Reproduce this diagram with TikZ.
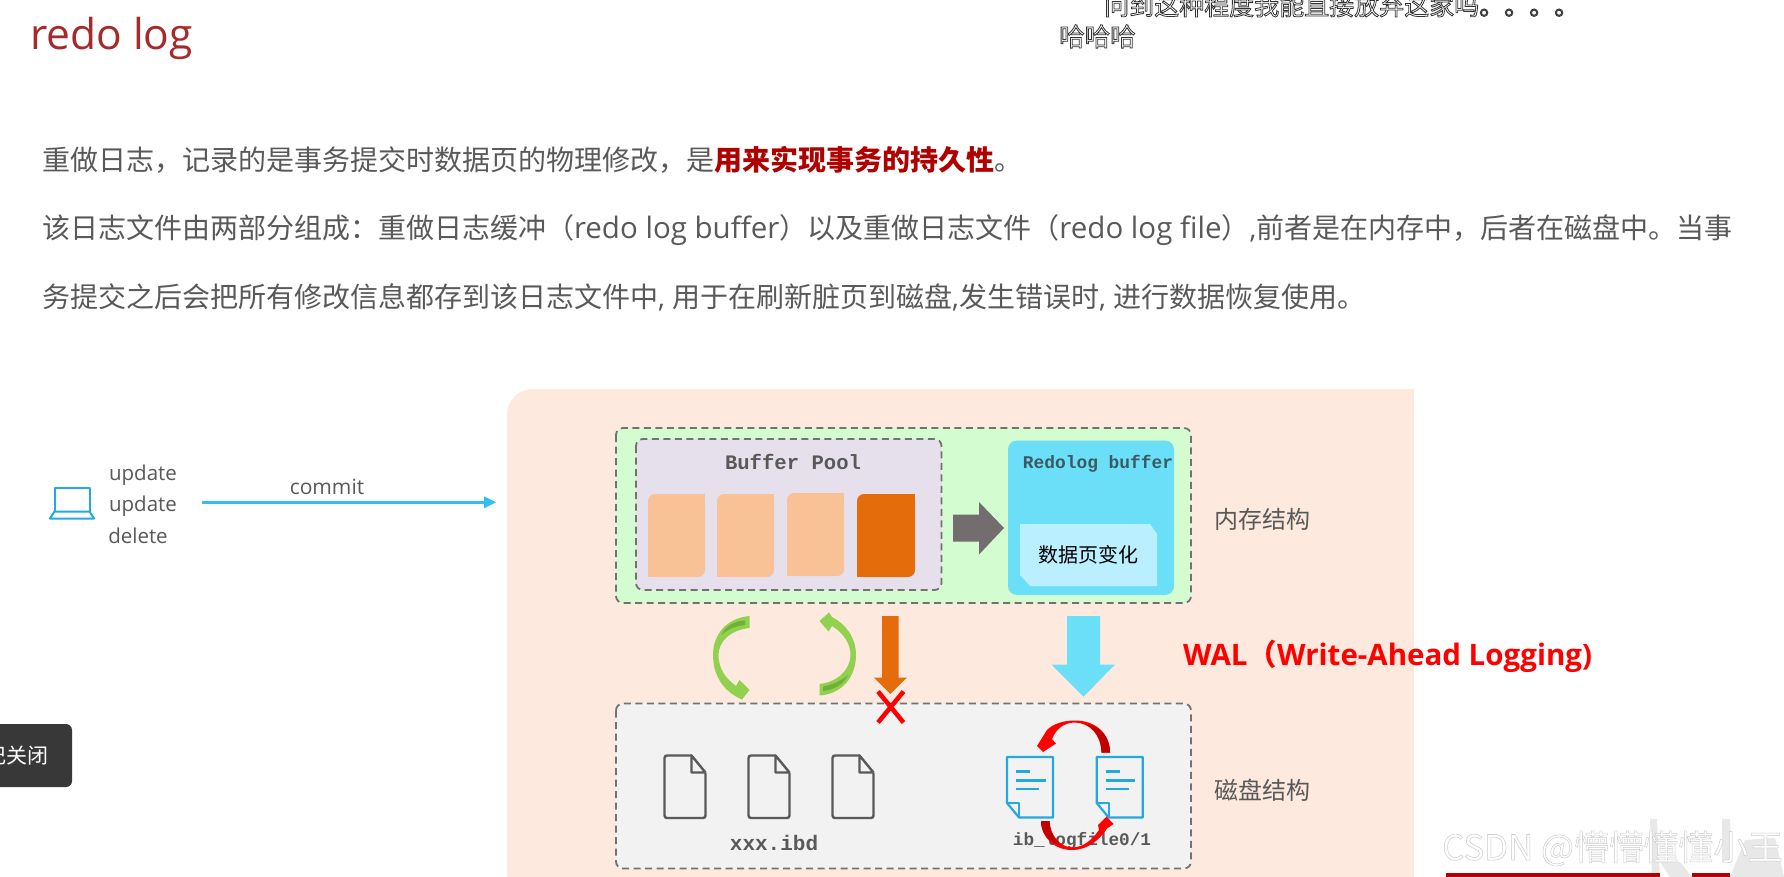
\documentclass[tikz,border=0pt]{standalone}
\usepackage{fontspec}
\setmainfont{Noto Sans CJK SC}
\newfontfamily\latf{Open Sans}
\newfontfamily\monof{Liberation Mono}
\newcommand{\fsz}[1]{\fontsize{#1}{#1}\selectfont}
\newcommand{\lt}[1]{{\latf\fsz{29.5}#1}}
\newcommand{\lc}[1]{{\latf #1}}
\newcommand{\outl}[3]{{\special{pdf:code 2 Tr #1 w #2 G}#3\special{pdf:code 0 Tr}}}
\definecolor{peach}{HTML}{FDE9DD}
\definecolor{memgreen}{HTML}{D3FCD0}
\definecolor{lilac}{HTML}{E5E0EC}
\definecolor{pagec}{HTML}{F8C196}
\definecolor{pagedark}{HTML}{E46C0A}
\definecolor{greyarrow}{HTML}{746D70}
\definecolor{cyanb}{HTML}{6ADFF7}
\definecolor{cyanl}{HTML}{BAEFFF}
\definecolor{diskc}{HTML}{F2F2F2}
\definecolor{txt}{HTML}{595959}
\definecolor{blued}{HTML}{24A8E0}
\definecolor{commitc}{HTML}{33BEF3}
\definecolor{titlec}{HTML}{A52A2A}
\definecolor{leaf}{HTML}{92D050}
\definecolor{leafd}{HTML}{6FB03A}
\definecolor{dashc}{HTML}{767171}
\definecolor{darkr}{HTML}{C00000}
\definecolor{barr}{HTML}{B00000}
\definecolor{popupc}{HTML}{383838}
\definecolor{rbtxt}{HTML}{3C5A64}
\tikzset{
  x=1pt,y=-1pt,
  txtnode/.style={inner sep=0pt,outer sep=0pt,text=txt},
  bodyline/.style={txtnode,anchor=base west,font=\fsz{28}},
  dashbox/.style={draw=dashc,line width=1.8pt,dash pattern=on 7pt off 4.5pt,rounded corners=7pt},
  ibddoc/.pic={
    \draw[txt,line width=2.4pt,rounded corners=2.5pt,fill=diskc]
      (27,0) -- (0,0) -- (0,62.5) -- (41,62.5) -- (41,17);
    \draw[txt,line width=2.4pt,line join=round] (41,17) -- (27,17) -- (27,0) -- (41,17);
  },
  logdoc/.pic={
    \draw[blued,line width=2.2pt,line join=round] (1,0) -- (46,0) -- (46,60.5) -- (12,60.5) -- (0,46) -- (0,0) -- cycle;
    \draw[blued,line width=2.2pt,line join=round] (0,46) -- (12,46) -- (12,60.5);
    \draw[blued,line width=2.6pt] (9,14.5) -- (23,14.5) (9,23.5) -- (38.5,23.5) (9,32) -- (32,32);
  },
}
\begin{document}
\begin{tikzpicture}
\useasboundingbox (0,0) rectangle (1784,877);
\fill[white] (0,0) rectangle (1784,877);

% title and paragraphs
\node[txtnode,anchor=base west,text=titlec,font=\latf\fsz{42.5}] (title) at (30,50) {redo log};
\node[bodyline] (l1) at (42,171) {重做日志，记录的是事务提交时数据页的物理修改，是{\bfseries\color{barr}用来实现事务的持久性}。};
\node[bodyline] (l2) at (42,239) {该日志文件由两部分组成：重做日志缓冲（\lt{redo log buffer}）以及重做日志文件（\lt{redo log file}）\lc{,}前者是在内存中，后者在磁盘中。当事};
\node[bodyline] (l3) at (42,307) {务提交之后会把所有修改信息都存到该日志文件中\lc{, }用于在刷新脏页到磁盘\lc{,}发生错误时\lc{, }进行数据恢复使用。};

% bullet comments across the top
\node[inner sep=0pt,anchor=base west,text=white,font=\fsz{25}] (dm1) at (1104,15) {\outl{0.8}{0.2}{问到这种程度我能直接放弃这家吗。。。。}};
\node[inner sep=0pt,anchor=base west,text=white,font=\fsz{25.5}] (dm2) at (1059,46) {\outl{0.8}{0.2}{哈哈哈}};

% left: client
\draw[blued,line width=2pt,line join=round] (54.5,511.5) -- (54.5,488) -- (89.5,488) -- (89.5,511.5);
\draw[blued,line width=2pt,line join=round] (54.5,511.5) -- (89.5,511.5) -- (94,518.5) -- (50,518.5) -- cycle;
\node[txtnode,font=\latf\fsz{20.5}] (op1) at (143,475) {update};
\node[txtnode,font=\latf\fsz{20.5}] (op2) at (143,506) {update};
\node[txtnode,font=\latf\fsz{20.5}] (op3) at (138,536) {delete};
\node[txtnode,font=\latf\fsz{21}] (commit) at (327,487) {commit};

% dark popup
\fill[rounded corners=6pt,popupc] (-12,724) rectangle (72,787);
\node[inner sep=0pt,anchor=east,text=white,font=\fsz{21}] (popup) at (48.5,756) {记关闭};

% peach panel
\fill[peach,rounded corners=26pt] (507,900) -- (507,389) -- (1440,389) -- (1440,900) -- cycle;
\fill[white] (1414,380) rectangle (1460,877);
\coordinate (commitstart) at (201.7,502.3);
\coordinate (commitend) at (496,502.3);
\draw[commitc,line width=2.6pt] (commitstart) -- (484.5,502.3);
\fill[commitc] (commitend) -- (484,496.3) -- (484,508.3) -- cycle;

% memory structure
\draw[dashbox,fill=memgreen] (616,428) rectangle (1191,603);
\draw[dashbox,fill=lilac] (636,439) rectangle (941.5,590);
\node[txtnode,font=\monof\bfseries\fsz{20.6}] (bp) at (793,462) {Buffer Pool};
\fill[pagec,rounded corners=7pt] (648,494) rectangle (705,577);
\fill[pagec] (648,510) rectangle (660,577);\fill[pagec] (690,494) rectangle (705,560);
\fill[pagec,rounded corners=7pt] (717,494) rectangle (774,577);
\fill[pagec] (717,510) rectangle (730,577);\fill[pagec] (755,494) rectangle (774,560);
\fill[pagec,rounded corners=7pt] (787,493) rectangle (844,576);
\fill[pagec] (787,510) rectangle (800,576);\fill[pagec] (825,493) rectangle (844,560);
\fill[pagedark,rounded corners=7pt] (857,494) rectangle (915,577);
\fill[pagedark] (857,510) rectangle (870,577);\fill[pagedark] (895,494) rectangle (915,560);
\fill[greyarrow] (953,514.5) -- (979,514.5) -- (979,502) -- (1004,528) -- (979,554.5) -- (979,541.5) -- (953,541.5) -- cycle;
\fill[cyanb,rounded corners=9pt] (1008,440.5) rectangle (1174,595);
\node[txtnode,font=\monof\bfseries\fsz{17.9},text=rbtxt] (rb) at (1098,463.5) {Redolog buffer};
\fill[cyanl] (1020,524) -- (1150,524) -- (1157,534) -- (1157,586) -- (1030,586) -- (1020,575) -- cycle;
\node[inner sep=0pt,text=black,font=\fsz{20}] (change) at (1088,555) {数据页变化};
\node[txtnode,anchor=west,font=\fsz{24}] (mem) at (1214,519) {内存结构};

% disk structure
\draw[dashbox,fill=diskc] (616,703.5) rectangle (1191,868.5);
\pic at (664.5,755.5) {ibddoc};
\pic at (748.5,755.5) {ibddoc};
\pic at (832.5,755.5) {ibddoc};
\node[txtnode,font=\monof\bfseries\fsz{21}] (ibd) at (774,843) {xxx.ibd};
\pic at (1007,757) {logdoc};
\pic at (1096.7,757) {logdoc};
\node[txtnode,font=\monof\bfseries\fsz{17.7}] (ibl) at (1082,840.5) {ib\_logfile0/1};
\node[txtnode,anchor=west,font=\fsz{24}] (disk) at (1214,790) {磁盘结构};

% between memory and disk: green loop arrows
\fill[leaf] (749.5,616) .. controls (727,618) and (713,634) .. (713,655)
  .. controls (713,674) and (722,689) .. (737,697) -- (742,699.5) -- (749.5,690) -- (739.5,680) -- (736,686)
  .. controls (725,678) and (718.5,668) .. (718.5,655)
  .. controls (718.5,642) and (730,630) .. (749.5,628) -- cycle;
\fill[leafd] (745,620.5) .. controls (735,621) and (725,626) .. (721.5,635) .. controls (728,629) and (736,626) .. (745,625) -- cycle;
\fill[leaf] (819.5,695.5) .. controls (842,694) and (856,677) .. (856,655)
  .. controls (856,638) and (846,624) .. (832,617) -- (829,612.5) -- (819.5,621) -- (828.5,631.5) -- (832,626)
  .. controls (843,633) and (850.5,643) .. (850.5,655)
  .. controls (850.5,669) and (838,682) .. (819.5,684) -- cycle;
\fill[leafd] (823,691) .. controls (834,690) and (844,684) .. (848,675) .. controls (841,681) and (832,685) .. (823,686.5) -- cycle;

% block arrows
\fill[pagedark] (882,616) -- (898.5,616) -- (898.5,677.5) -- (907,677.5) -- (890.3,694) -- (874,677.5) -- (882,677.5) -- cycle;
\fill[cyanb] (1067,616) -- (1100,616) -- (1100,664.5) -- (1115,664.5) -- (1083.5,696.7) -- (1051.5,664.5) -- (1067,664.5) -- cycle;
\draw[red,line width=4.5pt] (878,691.5) -- (903.5,722.5) (903.5,691.5) -- (878,722.5);
\node[inner sep=0pt,anchor=base west,text=red,font=\latf\bfseries\fsz{29.5}] (wal) at (1183,665) {WAL{\rmfamily\bfseries（}Write-Ahead Logging)};

% red log-rotation arrows
\fill[red] (1101.5,752.5) .. controls (1101,735) and (1090,723) .. (1075,722.5)
  .. controls (1064,722.5) and (1056,729) .. (1052,739) -- (1056,743.5) -- (1043,752) -- (1037,746) -- (1047,730)
  .. controls (1053,724) and (1063,720.5) .. (1075,720.5)
  .. controls (1095,720.5) and (1110,733) .. (1110,752.5) -- cycle;
\fill[darkr] (1101.5,752.5) .. controls (1101,738) and (1095,729) .. (1086,724.5)
  .. controls (1100,726) and (1110,737) .. (1110,752.5) -- cycle;
\fill[red] (1049.5,821) .. controls (1050,835) and (1060,847) .. (1072,847.5)
  .. controls (1083,847.5) and (1092,840) .. (1099,830) -- (1098,825) -- (1106.5,816.5) -- (1113.5,824) -- (1107,828.5)
  .. controls (1098,842) and (1086,850) .. (1072,850)
  .. controls (1054,850) and (1041,837) .. (1041,821) -- cycle;
\fill[darkr] (1049.5,821) .. controls (1050,832) and (1054,840) .. (1062,846)
  .. controls (1050,843) and (1041,834) .. (1041,821) -- cycle;

% watermark corner
\fill[black!9] (1650,819) -- (1657,819) -- (1660,877) -- (1652,877) -- cycle;
\fill[black!9] (1722,819) -- (1730,819) -- (1732,862) -- (1722,862) -- cycle;
\fill[black!9] (1660,862) -- (1680,862) -- (1692,877) -- (1670,877) -- cycle;
\fill[black!9] (1745,840) -- (1775,838) -- (1784,877) -- (1730,877) -- cycle;
\fill[barr] (1446,873) rectangle (1660,877);
\fill[barr] (1692,873) rectangle (1730,877);
\node[inner sep=0pt,anchor=base west,text=white,font=\fsz{34.8}] (wm) at (1442,860) {\outl{0.5}{0.8}{CSDN @懵懵懂懂小王}};
\end{tikzpicture}
\end{document}
